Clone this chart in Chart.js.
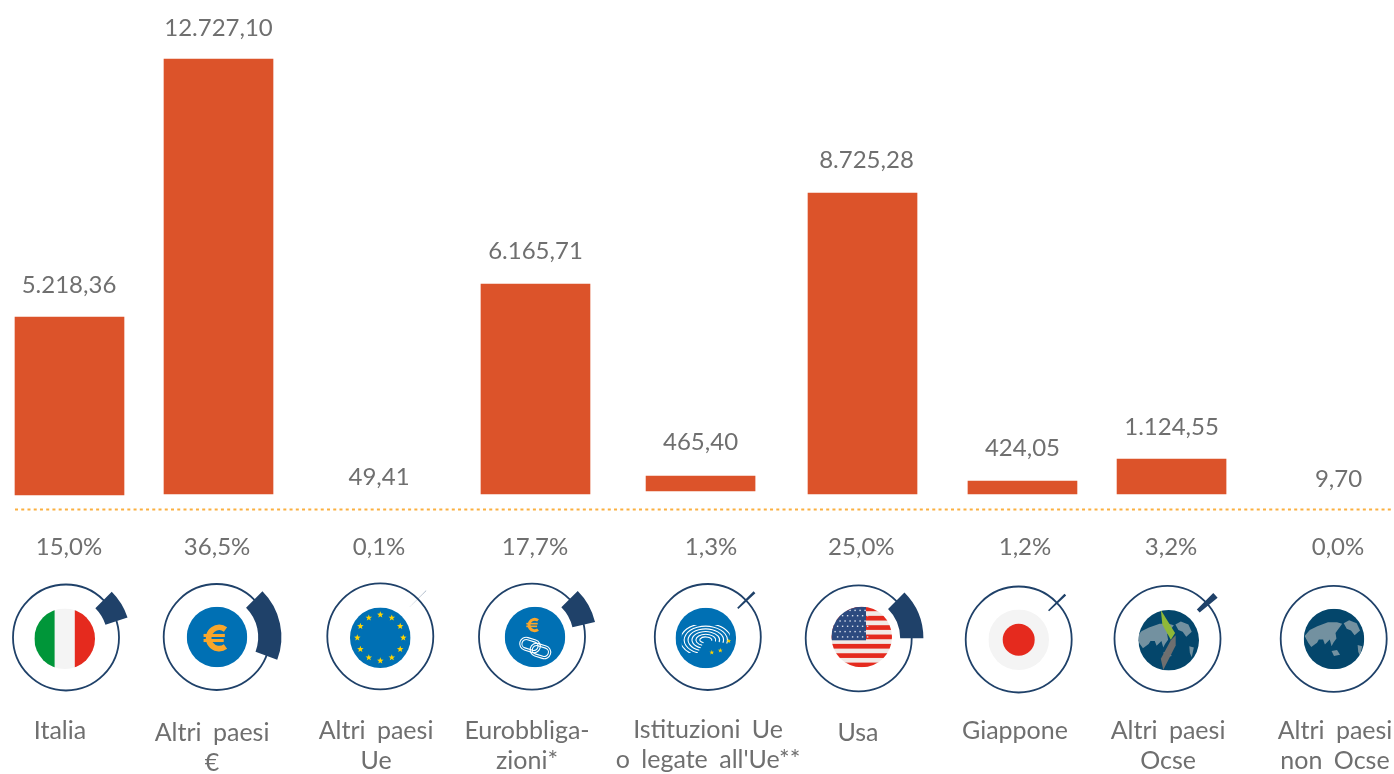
<!DOCTYPE html>
<html lang="it">
<head>
<meta charset="utf-8">
<title>Chart</title>
<style>
html,body{margin:0;padding:0;background:#fff;overflow:hidden}
canvas{display:block}
</style>
<script src="https://cdn.jsdelivr.net/npm/chart.js@4"></script>
</head>
<body>
<canvas id="c" width="1394" height="774"></canvas>
<script>
// ---- data ----
const categories = [["Italia"],["Altri paesi","€"],["Altri paesi","Ue"],["Eurobbliga-","zioni*"],["Istituzioni Ue","o legate all'Ue**"],["Usa"],["Giappone"],["Altri paesi","Ocse"],["Altri paesi","non Ocse"]];
const values = [5218.36,12727.10,49.41,6165.71,465.40,8725.28,424.05,1124.55,9.70];
const shares = [15.0,36.5,0.1,17.7,1.3,25.0,1.2,3.2,0.0];
const valueLabels = ["5.218,36","12.727,10","49,41","6.165,71","465,40","8.725,28","424,05","1.124,55","9,70"];
const shareLabels = ["15,0%","36,5%","0,1%","17,7%","1,3%","25,0%","1,2%","3,2%","0,0%"];
const iconKinds = ["italy","euro","eu","bonds","parliament","usa","japan","oecd","world"];

// ---- layout tweaks (the hand-placed columns of the original) ----
const barDx   = [0,-9.56,-6.6,-9.7,-3.2,0.2,1.6,-7.9,0];
const barTopDy= [1.4,0,0,0.9,-2.1,-2.6,1.5,3.4,0];
const barBaseDy=[1,0,0,0,-3,0,0,0,0];
const noBar   = [false,false,true,false,false,false,false,false,true];
const valueGap= [31.5,30.5,15.5,32.5,33.5,32.5,32.5,31.5,14.5];
const valueDx = [-0.5,0,-1,0,0,4,0,0,0.5];
const shareDx = [-0.5,-11,-7.6,-10.2,7.3,-1,4.1,-8.4,0];
const tickDx  = [-9.5,-16,-10.6,-18.2,4.3,-4.3,-5.9,-11.4,-3];
const tickDy  = [0,2,0,0,-1,2,0,0,0];
const ringX = [66,216.7,380.3,532,707.8,858.7,1018.7,1167.5,1333.7];
const ringY = [637.5,637,636.3,636.7,637,638.3,639.5,638.8,638.8];
const discX = [64.7,217,380.3,535,705.8,861.7,1018.7,1168.7,1334];
const discY = [638.7,637,637.7,637,638,637,639.7,640.3,639];
const FONT = 'Lato, "Open Sans", sans-serif';
const GREY = '#6f6f6f', NAVY = '#1f4169', BLUE = '#0070b4', RED = '#e52a1e', OCEAN = '#04466b', LAND = '#7391a0', AMBER = '#f9a62b', GOLD = '#ffd400';

function star(ctx,x,y,r,col){
  ctx.beginPath();
  for(let i=0;i<10;i++){
    const a=-Math.PI/2+i*Math.PI/5, q=i%2?r*0.42:r;
    ctx.lineTo(x+q*Math.cos(a),y+q*Math.sin(a));
  }
  ctx.closePath(); ctx.fillStyle=col; ctx.fill();
}
function poly(ctx,x,y,r,pts,col){
  ctx.beginPath();
  pts.forEach(p=>ctx.lineTo(x+p[0]*r,y+p[1]*r));
  ctx.closePath(); ctx.fillStyle=col; ctx.fill();
}
function euro(ctx,x,y,h){
  const r=h*0.38, lw=h*0.2;
  ctx.save();
  ctx.strokeStyle=AMBER; ctx.lineWidth=lw; ctx.lineCap='butt';
  ctx.beginPath(); ctx.arc(x+h*0.08,y,r,Math.PI*0.30,Math.PI*1.70); ctx.stroke();
  ctx.lineWidth=h*0.11;
  ctx.beginPath(); ctx.moveTo(x-h*0.48,y-h*0.09); ctx.lineTo(x+h*0.28,y-h*0.09); ctx.stroke();
  ctx.beginPath(); ctx.moveTo(x-h*0.48,y+h*0.09); ctx.lineTo(x+h*0.24,y+h*0.09); ctx.stroke();
  ctx.restore();
}
function link(ctx,x,y,w,h,rot){
  ctx.save(); ctx.translate(x,y); ctx.rotate(rot);
  ctx.strokeStyle='#fff'; ctx.lineWidth=1.1;
  [[w,h],[w-4.5,h-4.5]].forEach(s=>{
    ctx.beginPath(); ctx.roundRect(-s[0]/2,-s[1]/2,s[0],s[1],s[1]/2); ctx.stroke();
  });
  ctx.restore();
}
function worldMap(ctx,x,y,r,sx){
  const m=pts=>poly(ctx,x+sx*r,y,r,pts,LAND);
  m([[-.97,-.1],[-.8,-.3],[-.55,-.42],[-.2,-.55],[.1,-.55],[.27,-.5],[.15,-.34],[.05,-.2],[.08,-.02],[-.02,.12],[-.08,.24],[-.14,.02],[-.3,.18],[-.36,.02],[-.5,.02],[-.56,.12],[-.75,.26],[-.85,.12]]);
  m([[.32,-.52],[.5,-.62],[.75,-.52],[.86,-.28],[.68,-.12],[.56,-.28],[.42,-.34]]);
  m([[.78,.2],[.93,.24],[.86,.56],[.8,.42]]);
  m([[-.08,.4],[.1,.36],[.2,.52],[0,.56]]);
}
function drawIcon(ctx,kind,x,y){
  const r=30.3;
  ctx.save();
  ctx.beginPath(); ctx.arc(x,y,r,0,Math.PI*2); ctx.clip();
  if(kind==='italy'){
    ctx.fillStyle='#f4f4f4'; ctx.fillRect(x-r,y-r,2*r,2*r);
    ctx.fillStyle='#009639'; ctx.fillRect(x-r,y-r,20.2,2*r);
    ctx.fillStyle=RED; ctx.fillRect(x+10.1,y-r,20.2,2*r);
  } else if(kind==='euro'||kind==='eu'||kind==='bonds'||kind==='parliament'){
    ctx.fillStyle=BLUE; ctx.fillRect(x-r,y-r,2*r,2*r);
  } else if(kind==='usa'){
    ctx.fillStyle='#f2e9e6'; ctx.fillRect(x-r,y-r,2*r,2*r);
    ctx.fillStyle=RED;
    for(let i=0;i<7;i++){ ctx.fillRect(x-r,y-30.5+i*9.35,2*r,4.7); }
    ctx.fillStyle='#2c4a7f'; ctx.fillRect(x-r,y-r,r+4.3,r+3.3);
    ctx.fillStyle='#d9e0ec';
    for(let j=0;j<6;j++)for(let i=0;i<7;i++){
      ctx.fillRect(x-r+3+i*5+(j%2?2.5:0),y-r+3+j*5.3,1.4,1.4);
    }
  } else if(kind==='japan'){
    ctx.fillStyle='#f4f4f4'; ctx.fillRect(x-r,y-r,2*r,2*r);
    ctx.beginPath(); ctx.arc(x,y,16,0,Math.PI*2); ctx.fillStyle=RED; ctx.fill();
  } else {
    ctx.fillStyle=OCEAN; ctx.fillRect(x-r,y-r,2*r,2*r);
    worldMap(ctx,x,y,r,kind==='oecd'?-.1:0);
  }
  ctx.restore();
  if(kind==='euro') euro(ctx,x,y+1,28);
  if(kind==='eu'){
    for(let i=0;i<12;i++){
      const a=i*Math.PI/6;
      star(ctx,x+23*Math.cos(a),y+23*Math.sin(a),3.4,GOLD);
    }
  }
  if(kind==='bonds'){
    euro(ctx,x-1.5,y-12,15);
    link(ctx,x-5,y+8,21,13,0.3);
    link(ctx,x+5.4,y+14,21,13,0.3);
  }
  if(kind==='parliament'){
    ctx.save(); ctx.strokeStyle='#fff'; ctx.lineWidth=1.1;
    ctx.beginPath(); ctx.rect(x-24,y-13,48,28); ctx.clip();
    for(let i=0;i<6;i++){
      ctx.beginPath();
      ctx.ellipse(x,y+2,6+i*3.9,3+i*2.7,0,Math.PI*0.62,Math.PI*2.08);
      ctx.stroke();
    }
    ctx.restore();
    star(ctx,x+23,y+3,2.5,GOLD); star(ctx,x+14.5,y+12.5,2.5,GOLD); star(ctx,x+6,y+14.5,2.5,GOLD);
  }
  if(kind==='oecd'){
    poly(ctx,x,y,r,[[-.26,-1],[.21,-.24],[.07,-.02],[-.21,-.52]],'#8fb838');
    poly(ctx,x,y,r,[[.23,-.17],[.23,.17],[-.18,.98],[-.26,.61],[.07,0]],'#6f6f6f');
  }
}
function drawGauge(ctx,x,y,share){
  ctx.beginPath(); ctx.arc(x,y,53,0,Math.PI*2);
  ctx.strokeStyle=NAVY; ctx.lineWidth=1.8; ctx.stroke();
  if(share>0){
    const a0=-Math.PI/4, a1=a0+share*1.8*Math.PI/180;
    ctx.beginPath();
    ctx.arc(x,y,64.7,a0,a1);
    ctx.arc(x,y,41.5,a1,a0,true);
    ctx.closePath(); ctx.fillStyle=NAVY; ctx.fill();
  }
}

const overlay = {
  id:'overlay',
  afterDatasetsUpdate(chart){
    chart.getDatasetMeta(0).data.forEach((el,i)=>{
      el.x += barDx[i];
      el.y += barTopDy[i];
      el.base += barBaseDy[i];
      el.height = el.base - el.y;
    });
  },
  beforeDraw(chart){
    const ctx=chart.ctx;
    ctx.wordSpacing='5px';
    ctx.save(); ctx.fillStyle='#fff'; ctx.fillRect(0,0,chart.width,chart.height); ctx.restore();
    const sc=chart.scales.x;
    sc.getLabelItems().forEach((it,i)=>{
      if(it._nudged) return;
      it.options.translation[0]+=tickDx[i];
      it.options.translation[1]+=tickDy[i];
      it._nudged=true;
    });
  },
  afterDraw(chart){
    const ctx=chart.ctx, sc=chart.scales.x, meta=chart.getDatasetMeta(0);
    ctx.save();
    // dotted separator
    ctx.beginPath(); ctx.moveTo(15,509.5); ctx.lineTo(1394,509.5);
    ctx.setLineDash([3,3.24]); ctx.lineWidth=2; ctx.strokeStyle='#fbb040'; ctx.stroke(); ctx.setLineDash([]);
    // labels
    ctx.font='24px '+FONT; ctx.textAlign='center'; ctx.textBaseline='middle'; ctx.fillStyle=GREY;
    meta.data.forEach((el,i)=>{
      ctx.fillText(valueLabels[i],el.x+valueDx[i],el.y-valueGap[i]);
      ctx.fillText(shareLabels[i],sc.getPixelForTick(i)+shareDx[i],547);
    });
    // gauges and icons
    iconKinds.forEach((k,i)=>{
      drawGauge(ctx,ringX[i],ringY[i],shares[i]);
      drawIcon(ctx,k,discX[i],discY[i]);
    });
    ctx.restore();
  }
};

new Chart(document.getElementById('c'),{
  type:'bar',
  data:{labels:categories,datasets:[{
    data:values,
    backgroundColor:values.map((v,i)=>noBar[i]?'rgba(0,0,0,0)':'#dc532a'),
    barThickness:109,
    clip:false
  }]},
  plugins:[overlay],
  options:{
    responsive:false,animation:false,
    layout:{padding:{left:69.5,right:56,top:0,bottom:0}},
    plugins:{legend:{display:false},tooltip:{enabled:false}},
    scales:{
      x:{
        offset:false,
        grid:{display:false},border:{display:false},
        afterFit(a){a.height=280;a.paddingLeft=0;a.paddingRight=0;},
        ticks:{autoSkip:false,maxRotation:0,minRotation:0,padding:214,color:GREY,font:{family:FONT,size:25,lineHeight:1.2}}
      },
      y:{display:false,min:0,max:14453}
    }
  }
});
</script>
</body>
</html>
